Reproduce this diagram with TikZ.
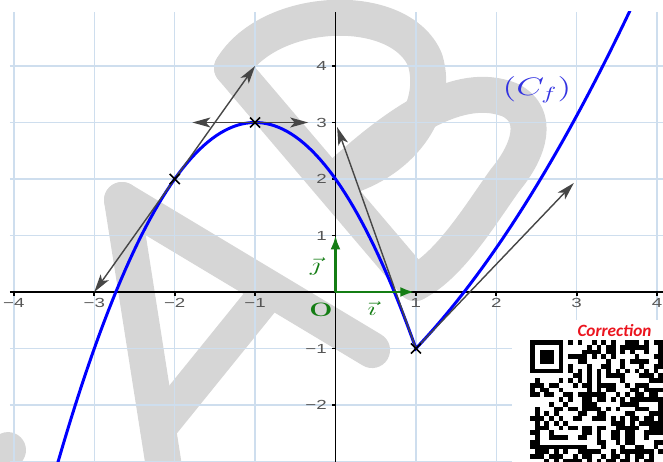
\documentclass[tikz,border=0pt]{standalone}
\usepackage{fontspec}
\usepackage{graphicx}
\usetikzlibrary{arrows.meta,shapes.misc}
\newfontfamily\corrfont{Carlito}
\newfontfamily\tickfont{Liberation Sans}
\definecolor{gridc}{RGB}{206,222,238}
\definecolor{wmc}{RGB}{214,214,214}
\definecolor{tanc}{RGB}{70,70,70}
\definecolor{vecc}{RGB}{20,125,20}
\definecolor{tickc}{RGB}{85,85,85}
\definecolor{curvec}{RGB}{0,0,255}
\definecolor{labc}{RGB}{50,50,225}
\definecolor{corrc}{RGB}{235,20,30}
\newcommand\hstretch[1]{\scalebox{1.42}[1]{#1}}
\tikzset{
 gridline/.style={draw=gridc, line width=0.75pt},
 axisline/.style={draw=black, line width=1pt},
 ticklab/.style={text=tickc, font=\tickfont\fontsize{7.5}{8}\selectfont, inner sep=0pt},
 curvepath/.style={draw=curvec, line width=1.7pt, line join=miter},
 tanarrow/.style={draw=tanc, line width=0.8pt, -{Stealth[length=0.36cm,width=0.2cm,inset=0.09cm]}},
 vecarrow/.style={draw=vecc, line width=1.4pt, -{Latex[length=0.28cm,width=0.2cm]}},
 xmark/.style={draw=black, cross out, minimum size=0.17cm, inner sep=0pt, line width=0.9pt},
 wmark/.style={draw=wmc, line width=0.72cm, line cap=round, line join=round},
 pxscope/.style={shift={(-6.71cm,5.84cm)}, x={(0.02cm,0cm)}, y={(0cm,-0.02cm)}},
}
\begin{document}
\begin{tikzpicture}[x=1.608cm,y=1.13cm]
\useasboundingbox (-4.1729,-3.0088) rectangle (4.0734,5.1681);
\begin{scope}
\clip (-4.1729,-3.0088) rectangle (4.0734,5.1681);
% watermark
\begin{scope}[pxscope]
\draw[wmark] (122,200) -- (166,480);
\draw[wmark] (122,200) -- (372,350);
\draw[wmark] (158,428) -- (268,292);
\draw[wmark] (-15,485) -- (8,450);
\draw[wmark] (232,68) -- (415,283);
\draw[wmark] (232,68) .. controls (270,5) and (400,0) .. (425,60) .. controls (440,110) and (400,165) .. (335,180);
\draw[wmark] (335,180) .. controls (400,120) and (460,80) .. (510,100) .. controls (540,115) and (530,150) .. (505,180) .. controls (480,215) and (450,265) .. (415,283);
\end{scope}
% grid
\foreach \i in {-4,...,4} \draw[gridline] (\i,-3.0088) -- (\i,4.956);
\foreach \j in {-3,...,4} \draw[gridline] (-4.049,\j) -- (4.0734,\j);
% axes
\draw[axisline] (-4.049,0) -- (4.0734,0);
\draw[axisline] (0,-3.0088) -- (0,4.956);
\foreach \i in {-4,-3,-2,-1,1,2,3,4} \draw[axisline] (\i,0) -- (\i,-0.07);
\foreach \j in {-2,-1,1,2,3,4} \draw[axisline] (0,\j) -- (-0.045,\j);
\foreach \x/\t/\n in {-4/−4/a,-3/−3/b,-2/−2/c,-1/−1/d,1/1/e,2/2/f,3/3/g,4/4/h}
  \node[ticklab] (xl\n) at (\x,-0.2) {\hstretch{\t}};
\foreach \y/\t/\n in {-2/−2/a,-1/−1/b,1/1/c,2/2/d,3/3/e,4/4/f}
  \node[ticklab, anchor=east] (yl\n) at (-0.105,\y) {\hstretch{\t}};
% curve
\begin{scope}
\clip (-4.049,-3.0088) rectangle (4.0734,4.956);
\draw[curvepath] plot[domain=-3.6:1, samples=90] (\x,{3-(\x+1)^2})
  -- plot[domain=1:3.75, samples=60] (\x,{-1+1.5*(\x-1)+0.28*(\x-1)^2});
\end{scope}
% points and tangent vectors
\coordinate (O) at (0,0);
\coordinate (A) at (-2,2);
\coordinate (B) at (-1,3);
\coordinate (C) at (1,-1);
\coordinate (A1) at (-3,0);
\coordinate (A2) at (-1,4);
\coordinate (B1) at (-1.78,3);
\coordinate (B2) at (-0.34,3);
\coordinate (C1) at (0.02,2.92);
\coordinate (C2) at (2.965,1.93);
\coordinate (I) at (0.98,0);
\coordinate (J) at (0,1);
\draw[tanarrow] (A) -- (A1);
\draw[tanarrow] (A) -- (A2);
\draw[tanarrow] (B) -- (B1);
\draw[tanarrow] (B) -- (B2);
\draw[tanarrow] (C) -- (C1);
\draw[tanarrow] (C) -- (C2);
\node[xmark] (mA) at (A) {};
\node[xmark] (mB) at (B) {};
\node[xmark] (mC) at (C) {};
\draw[vecarrow] (O) -- (J);
\draw[vecarrow] (O) -- (I);
\node[text=vecc, font=\bfseries\fontsize{11}{12}\selectfont, inner sep=0pt] (Olab) at (-0.18,-0.32) {\hstretch{O}};
\node[text=vecc, font=\fontsize{11}{12}\selectfont, inner sep=0pt] (jlab) at (-0.255,0.46) {\hstretch{$\vec{\jmath}$}};
\node[text=vecc, font=\fontsize{11}{12}\selectfont, inner sep=0pt] (ilab) at (0.454,-0.30) {\hstretch{$\vec{\imath}$}};
\node[text=labc, font=\fontsize{14}{16}\selectfont, inner sep=0pt] (cf) at (2.506,3.575) {\hstretch{$(C_f)$}};
% QR area
\fill[white] (2.195,-0.4956) rectangle (4.0734,-3.0088);
\node[text=corrc, font=\corrfont\bfseries\itshape\fontsize{9.8}{10}\selectfont, inner sep=0pt] (corr) at (3.47,-0.69) {Correction};
\begin{scope}[pxscope, shift={(530,340)}]
\fill[black] (0,0) rectangle (33.25,33.25);
\fill[white] (4.75,4.75) rectangle (28.5,28.5);
\fill[black] (9.5,9.5) rectangle (23.75,23.75);
\pgfmathsetseed{11}
\foreach \c in {0,...,27}{
 \foreach \r in {0,...,25}{
  \pgfmathrandominteger{\q}{0}{1}
  \def\qk{0}
  \ifnum\c=6 \def\qk{2}\fi
  \ifnum\r=6 \def\qk{2}\fi
  \ifnum\c<8 \ifnum\r<8 \def\qk{1}\fi\fi
  \ifnum\qk=0 \ifnum\q=1 \fill[black] (\c*4.75,\r*4.75) rectangle ++(4.8,4.8);\fi\fi
  \ifnum\qk=2 \pgfmathtruncatemacro\qt{mod(\c+\r,2)}\ifnum\qt=0 \fill[black] (\c*4.75,\r*4.75) rectangle ++(4.8,4.8);\fi\fi
 }}
\end{scope}
\end{scope}
\end{tikzpicture}
\end{document}
